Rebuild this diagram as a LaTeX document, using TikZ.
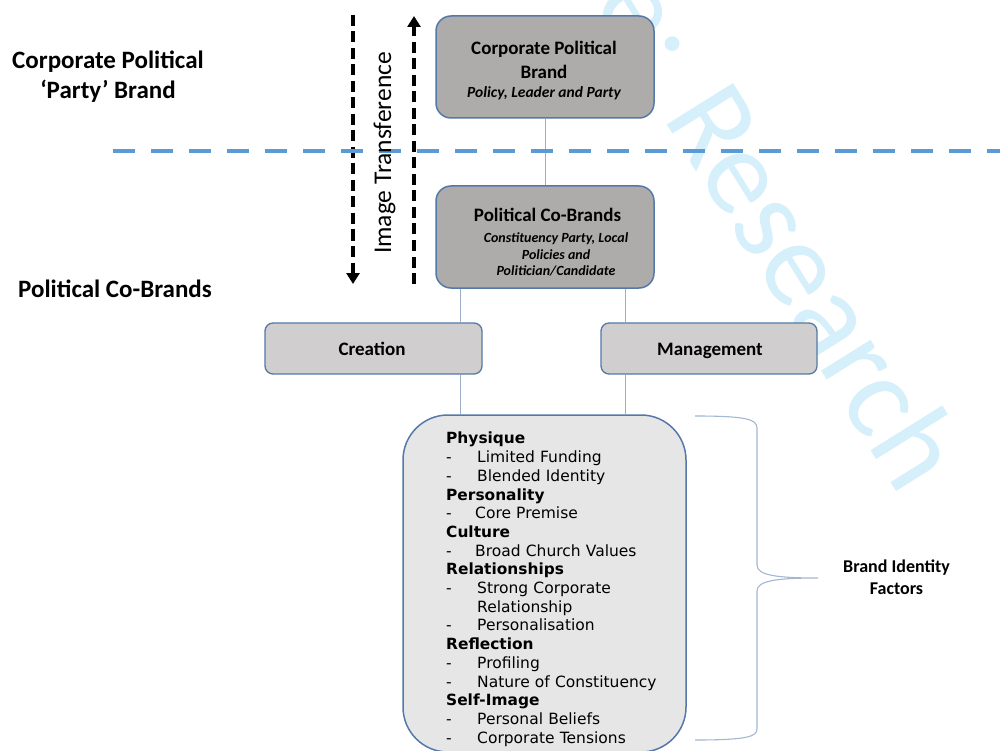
\documentclass[tikz,border=0pt]{standalone}
\usepackage{fontspec}
\setmainfont{Carlito}
\newfontfamily\verd{DejaVu Sans}
\usetikzlibrary{arrows.meta}
\definecolor{bordc}{HTML}{5479A8}
\definecolor{darkfill}{HTML}{AEABAB}
\definecolor{midfill}{HTML}{D0CECE}
\definecolor{lightfill}{HTML}{E7E6E6}
\definecolor{connc}{HTML}{9AAFC8}
\definecolor{bracec}{HTML}{A3B8D2}
\definecolor{dashblue}{HTML}{5B9BD5}
\definecolor{wmc}{HTML}{D5EFFB}
\begin{document}
\begin{tikzpicture}[x=1pt,y=-1pt,
  darkbox/.style={draw=bordc,line width=1.5pt,fill=darkfill,rounded corners=15pt,minimum width=218pt,minimum height=102pt,inner sep=0pt},
  midbox/.style={draw=bordc,line width=1.3pt,fill=midfill,rounded corners=8pt,minimum height=51pt,inner sep=0pt},
  bigbox/.style={draw=bordc,line width=1.5pt,fill=lightfill,rounded corners=45pt,minimum width=283pt,minimum height=337pt,inner sep=0pt},
  conn/.style={draw=connc,line width=1pt},
  bracepath/.style={draw=bracec,line width=1.1pt},
  ttl/.style={font=\bfseries\fontsize{19}{23}\selectfont,anchor=base,inner sep=0pt},
  subl/.style={font=\bfseries\itshape\fontsize{15.5}{19}\selectfont,anchor=base,inner sep=0pt},
  subs/.style={font=\bfseries\itshape\fontsize{14}{16}\selectfont,anchor=base,inner sep=0pt},
  side/.style={font=\bfseries\fontsize{25}{30}\selectfont,anchor=base,inner sep=0pt},
  factl/.style={font=\bfseries\fontsize{18}{22}\selectfont,anchor=base,inner sep=0pt},
  tarrow/.style={line width=3.5pt,dash pattern=on 11pt off 5.5pt,-{Triangle[width=13pt,length=11pt]}},
  dashline/.style={draw=dashblue,line width=4pt,dash pattern=on 22pt off 16pt},
  wm/.style={text=wmc,font=\fontsize{122}{130}\selectfont,rotate=-58,inner sep=0pt}
]
\useasboundingbox (0,0) rectangle (1000,751);
\fill[white] (0,0) rectangle (1000,751);

% watermark
\begin{scope}
\clip (0,0) rectangle (1000,751);
\node[wm] (wm1) at (817,285) {Research};
\node[wm,anchor=base east,xshift=-40pt] (wm2) at (wm1.base west) {e:};
\end{scope}

% helper coordinates
\coordinate (xl) at (460,0);
\coordinate (xr) at (625,0);

% boxes
\node[darkbox] (cpb) at (545,67) {};
\node[darkbox] (cob) at (545,237) {};
\node[midbox,minimum width=217pt] (cre) at (373.5,348.5) {};
\node[midbox,minimum width=216pt] (man) at (709,348.5) {};
\node[bigbox] (big) at (544.5,583.5) {};

% connectors
\draw[conn] (cpb.south) -- (cob.north);
\draw[conn] (xl |- cob.south) -- (xl |- cre.north);
\draw[conn] (xl |- cre.south) -- (xl |- big.north);
\draw[conn] (xr |- cob.south) -- (xr |- man.north);
\draw[conn] (xr |- man.south) -- (xr |- big.north);

% image transference arrows
\coordinate (aL1) at (353,15);
\coordinate (aL2) at (353,284);
\coordinate (aR1) at (414,284);
\coordinate (aR2) at (414,16);
\draw[tarrow] (aL1) -- (aL2);
\draw[tarrow] (aR1) -- (aR2);

% blue separator
\coordinate (dl) at (113,151);
\coordinate (dr) at (1000,151);
\draw[dashline] (dl) -- (dr);

\node[font=\fontsize{25.5}{30}\selectfont,rotate=90,anchor=base,inner sep=0pt] (imt) at (391,153) {Image Transference};

% box texts
\node[ttl] (cpb1) at (544,55) {Corporate Political};
\node[ttl] (cpb2) at (544,78.5) {Brand};
\node[subl] (cpb3) at (544,98) {Policy, Leader and Party};

\node[ttl] (cob1) at (547.5,222) {Political Co-Brands};
\node[subs] (cob2) at (556,242.5) {Constituency Party, Local};
\node[subs] (cob3) at (556,259) {Policies and};
\node[subs] (cob4) at (556,275) {Politician/Candidate};

\node[ttl] (cre1) at (372,355) {Creation};
\node[ttl] (man1) at (710,355) {Management};

% side labels
\node[side] (sl1) at (108,68.5) {Corporate Political};
\node[side] (sl2) at (108,98.5) {‘Party’ Brand};
\node[side] (sl3) at (115,297) {Political Co-Brands};

% list
\node[text width=240pt,align=left,anchor=north west,inner sep=0pt,
      font=\verd\fontsize{15.5}{18.7}\selectfont] (list) at (446,432) {%
{\fontsize{15.4}{18.7}\selectfont\bfseries Physique}\\
\makebox[31pt][l]{-}Limited Funding\\
\makebox[31pt][l]{-}Blended Identity\\
{\fontsize{15.4}{18.7}\selectfont\bfseries Personality}\\
\makebox[29pt][l]{-}Core Premise\\
{\fontsize{15.4}{18.7}\selectfont\bfseries Culture}\\
\makebox[29pt][l]{-}Broad Church Values\\
{\fontsize{15.4}{18.7}\selectfont\bfseries Relationships}\\
\makebox[31pt][l]{-}Strong Corporate\\
\hspace*{31pt}Relationship\\
\makebox[31pt][l]{-}Personalisation\\
{\fontsize{15.4}{18.7}\selectfont\bfseries Reflection}\\
\makebox[31pt][l]{-}Profiling\\
\makebox[31pt][l]{-}Nature of Constituency\\
{\fontsize{15.4}{18.7}\selectfont\bfseries Self-Image}\\
\makebox[31pt][l]{-}Personal Beliefs\\
\makebox[31pt][l]{-}Corporate Tensions};

% brace
\coordinate (bt) at (695,416);
\coordinate (bb) at (695,740);
\coordinate (btip) at (818,578);
\draw[bracepath] (bt) .. controls (745,416) and (757,419) .. (757,428)
  -- (757,565) .. controls (757,575) and (775,578) .. (btip)
  .. controls (775,578) and (757,581) .. (757,591)
  -- (757,729) .. controls (757,737) and (745,740) .. (bb);

\node[factl] (bif1) at (896.5,572.7) {Brand Identity};
\node[factl] (bif2) at (896.5,594) {Factors};
\end{tikzpicture}
\end{document}
